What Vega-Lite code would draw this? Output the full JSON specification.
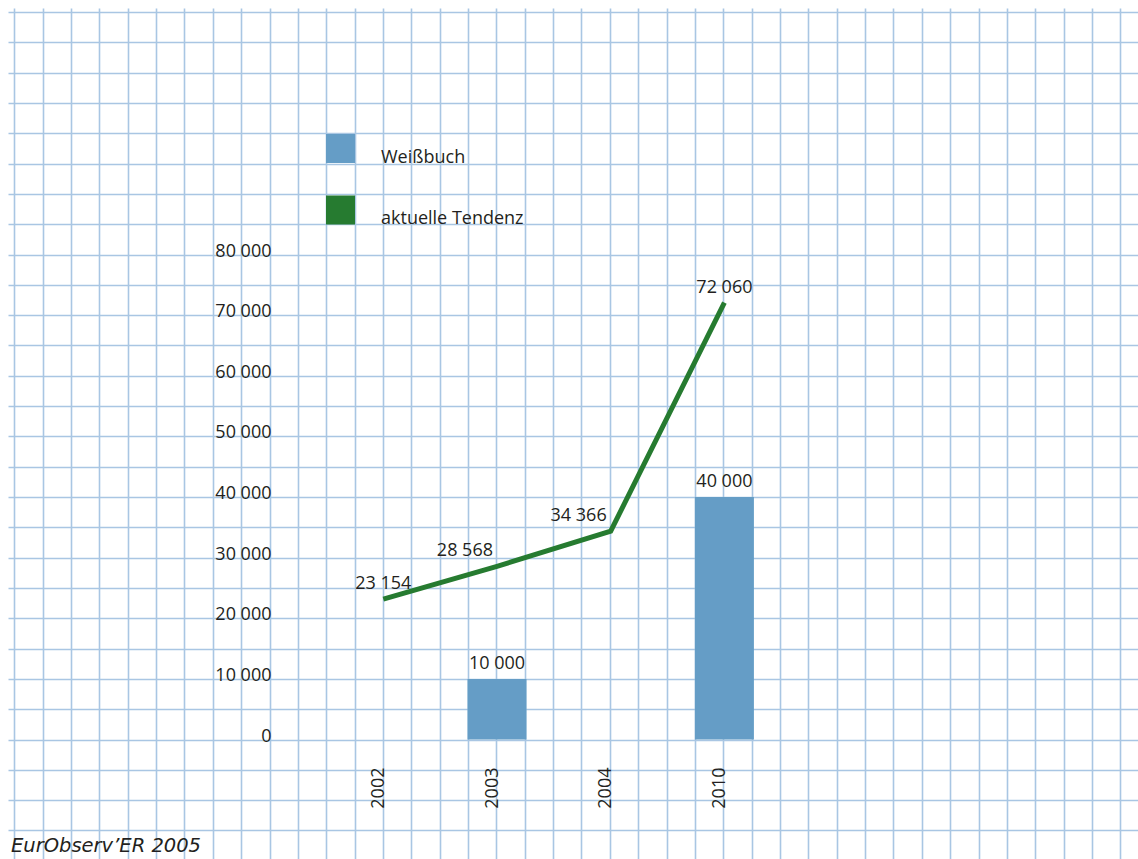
{
  "$schema": "https://vega.github.io/schema/vega-lite/v6.json",
  "autosize": "none",
  "padding": {"left": 8, "top": 8, "right": 0, "bottom": 0},
  "width": 1130,
  "height": 851,
  "background": "white",
  "config": {
    "view": {"stroke": null},
    "locale": {"number": {"decimal": ",", "thousands": " ", "grouping": [3], "currency": ["", " €"]}},
    "text": {"font": "Open Sans", "fontSize": 18, "color": "#231f20"}
  },
  "title": {
    "text": "EurObserv’ER 2005",
    "orient": "bottom",
    "anchor": "start",
    "frame": "group",
    "offset": -7,
    "dx": 3,
    "baseline": "alphabetic",
    "font": "DejaVu Sans",
    "fontStyle": "italic",
    "fontWeight": "normal",
    "fontSize": 19.5,
    "color": "#231f20"
  },
  "datasets": {
    "main": [
      {"year": "2002", "series": "aktuelle Tendenz", "value": 23154},
      {"year": "2003", "series": "aktuelle Tendenz", "value": 28568},
      {"year": "2004", "series": "aktuelle Tendenz", "value": 34366},
      {"year": "2010", "series": "aktuelle Tendenz", "value": 72060},
      {"year": "2003", "series": "Weißbuch", "value": 10000},
      {"year": "2010", "series": "Weißbuch", "value": 40000}
    ],
    "grid": [{"g": 0, "v": 0}]
  },
  "resolve": {"scale": {"x": "independent"}, "axis": {"x": "independent", "y": "independent"}},
  "layer": [
    {
      "data": {"name": "grid"},
      "mark": {"type": "point", "opacity": 0},
      "encoding": {
        "x": {
          "field": "g",
          "type": "quantitative",
          "scale": {"domain": [-0.2221, 39.623], "nice": false, "zero": false},
          "axis": {
            "orient": "top",
            "title": null,
            "labels": false,
            "ticks": false,
            "domain": false,
            "grid": true,
            "gridColor": "#a9c6e3",
            "gridWidth": 1.6,
            "values": [0,1,2,3,4,5,6,7,8,9,10,11,12,13,14,15,16,17,18,19,20,21,22,23,24,25,26,27,28,29,30,31,32,33,34,35,36,37,38,39]
          }
        },
        "y": {
          "field": "v",
          "type": "quantitative",
          "scale": {"domain": [-19711, 120660], "nice": false, "zero": false},
          "axis": {
            "orient": "left",
            "title": null,
            "labels": false,
            "ticks": false,
            "domain": false,
            "grid": true,
            "gridColor": "#a9c6e3",
            "gridWidth": 1.6,
            "values": [-15000,-10000,-5000,0,5000,10000,15000,20000,25000,30000,35000,40000,45000,50000,55000,60000,65000,70000,75000,80000,85000,90000,95000,100000,105000,110000,115000,120000]
          }
        }
      }
    },
    {
      "data": {"name": "main"},
      "encoding": {
        "x": {
          "field": "year",
          "type": "ordinal",
          "scale": {"type": "point", "domain": ["2002", "2003", "2004", "2010"], "range": [375.3, 716.4], "padding": 0},
          "axis": {
            "orient": "bottom",
            "offset": -94,
            "title": null,
            "domain": false,
            "ticks": false,
            "tickSize": 0,
            "grid": false,
            "labelAngle": -90,
            "labelAlign": "right",
            "labelBaseline": "alphabetic",
            "labelPadding": 2,
            "labelFont": "Open Sans",
            "labelFontSize": 18,
            "labelColor": "#231f20"
          }
        },
        "y": {
          "field": "value",
          "type": "quantitative",
          "scale": {"domain": [-19711, 120660], "nice": false, "zero": false},
          "axis": {
            "orient": "left",
            "offset": -266,
            "title": null,
            "domain": false,
            "ticks": false,
            "tickSize": 0,
            "grid": false,
            "values": [0,10000,20000,30000,40000,50000,60000,70000,80000],
            "format": ",d",
            "labelBaseline": "alphabetic",
            "labelOffset": 1.5,
            "labelPadding": 3,
            "labelFont": "Open Sans",
            "labelFontSize": 18,
            "labelColor": "#231f20"
          }
        }
      },
      "layer": [
        {
          "transform": [{"filter": "datum.series == 'Weißbuch'"}],
          "mark": {"type": "bar", "size": 59},
          "encoding": {
            "color": {
              "field": "series",
              "type": "nominal",
              "scale": {"domain": ["Weißbuch", "aktuelle Tendenz"], "range": ["#659dc6", "#267b30"]},
              "legend": {
                "title": null,
                "orient": "none",
                "legendX": 318,
                "legendY": 126,
                "padding": 0,
                "symbolType": "square",
                "symbolSize": 841,
                "symbolStrokeWidth": 0,
                "symbolOpacity": 1,
                "labelOffset": 26,
                "rowPadding": 28.5,
                "labelFont": "Open Sans",
                "labelFontSize": 18,
                "labelBaseline": "top",
                "labelColor": "#231f20"
              }
            }
          }
        },
        {
          "transform": [{"filter": "datum.series == 'aktuelle Tendenz'"}],
          "mark": {"type": "line", "color": "#267b30", "strokeWidth": 5, "strokeCap": "butt", "strokeJoin": "miter"},
          "encoding": {}
        },
        {
          "transform": [{"filter": "datum.series == 'Weißbuch'"}],
          "mark": {"type": "text", "align": "center", "baseline": "alphabetic", "dy": -10},
          "encoding": {"text": {"field": "value", "type": "quantitative", "format": ",d"}}
        },
        {
          "transform": [{"filter": "datum.series == 'aktuelle Tendenz' && (datum.year == '2002' || datum.year == '2010')"}],
          "mark": {"type": "text", "align": "center", "baseline": "alphabetic", "dy": -10},
          "encoding": {"text": {"field": "value", "type": "quantitative", "format": ",d"}}
        },
        {
          "transform": [{"filter": "datum.series == 'aktuelle Tendenz' && (datum.year == '2003' || datum.year == '2004')"}],
          "mark": {"type": "text", "align": "right", "baseline": "alphabetic", "dx": -4, "dy": -10},
          "encoding": {"text": {"field": "value", "type": "quantitative", "format": ",d"}}
        }
      ]
    }
  ]
}
